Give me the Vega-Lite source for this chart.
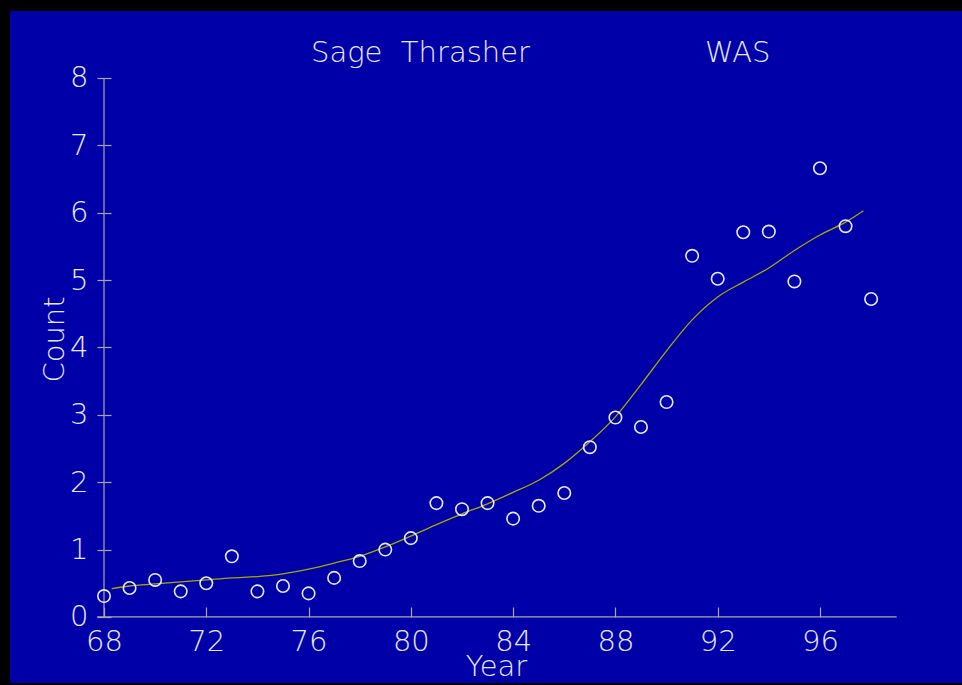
{
  "$schema": "https://vega.github.io/schema/vega-lite/v6.json",
  "width": 952,
  "height": 672,
  "autosize": {"type": "none"},
  "padding": {"left": 10, "top": 11, "right": 0, "bottom": 2},
  "background": "#000000",
  "config": {
    "view": {"fill": "#0000A8", "stroke": null},
    "font": "DejaVu Sans"
  },
  "title": {
    "text": "Sage\u00a0\u00a0Thrasher\u00a0\u00a0\u00a0\u00a0\u00a0\u00a0\u00a0\u00a0\u00a0\u00a0\u00a0\u00a0\u00a0\u00a0\u00a0\u00a0\u00a0\u00a0\u00a0WAS",
    "anchor": "start",
    "frame": "group",
    "dx": 301,
    "offset": -80,
    "baseline": "alphabetic",
    "fontSize": 29,
    "fontWeight": 200,
    "color": "#E8E8FF",
    "font": "DejaVu Sans"
  },
  "data": {"values": [{}]},
  "datasets": {
    "obs": [
      {"year": 68, "count": 0.31}, {"year": 69, "count": 0.43}, {"year": 70, "count": 0.55},
      {"year": 71, "count": 0.38}, {"year": 72, "count": 0.5}, {"year": 73, "count": 0.9},
      {"year": 74, "count": 0.38}, {"year": 75, "count": 0.46}, {"year": 76, "count": 0.35},
      {"year": 77, "count": 0.58}, {"year": 78, "count": 0.83}, {"year": 79, "count": 1.0},
      {"year": 80, "count": 1.17}, {"year": 81, "count": 1.69}, {"year": 82, "count": 1.6},
      {"year": 83, "count": 1.69}, {"year": 84, "count": 1.46}, {"year": 85, "count": 1.65},
      {"year": 86, "count": 1.84}, {"year": 87, "count": 2.52}, {"year": 88, "count": 2.96},
      {"year": 89, "count": 2.82}, {"year": 90, "count": 3.19}, {"year": 91, "count": 5.36},
      {"year": 92, "count": 5.02}, {"year": 93, "count": 5.71}, {"year": 94, "count": 5.72},
      {"year": 95, "count": 4.98}, {"year": 96, "count": 6.66}, {"year": 97, "count": 5.8},
      {"year": 98, "count": 4.72}
    ],
    "fit": [
      {"year": 68.3, "fit": 0.42}, {"year": 69, "fit": 0.46}, {"year": 70, "fit": 0.49},
      {"year": 71, "fit": 0.52}, {"year": 72, "fit": 0.55}, {"year": 73, "fit": 0.58},
      {"year": 74, "fit": 0.6}, {"year": 75, "fit": 0.64}, {"year": 76, "fit": 0.71},
      {"year": 77, "fit": 0.8}, {"year": 78, "fit": 0.9}, {"year": 79, "fit": 1.04},
      {"year": 80, "fit": 1.2}, {"year": 81, "fit": 1.37}, {"year": 82, "fit": 1.53},
      {"year": 83, "fit": 1.68}, {"year": 84, "fit": 1.85}, {"year": 85, "fit": 2.03},
      {"year": 86, "fit": 2.28}, {"year": 87, "fit": 2.6}, {"year": 88, "fit": 2.97},
      {"year": 89, "fit": 3.45}, {"year": 90, "fit": 3.95}, {"year": 91, "fit": 4.41},
      {"year": 92, "fit": 4.75}, {"year": 93, "fit": 4.97}, {"year": 94, "fit": 5.18},
      {"year": 95, "fit": 5.44}, {"year": 96, "fit": 5.67}, {"year": 97, "fit": 5.86},
      {"year": 97.7, "fit": 6.03}
    ]
  },
  "resolve": {"axis": {"y": "independent", "x": "independent"}},
  "layer": [
    {
      "mark": {"type": "rule", "color": "#A8A8A8", "strokeWidth": 1.2},
      "encoding": {
        "x": {"datum": 67.73, "type": "quantitative", "scale": {"domain": [64.324, 101.554], "nice": false, "zero": false}, "axis": null},
        "x2": {"datum": 99.0},
        "y": {"datum": 0, "type": "quantitative", "scale": {"domain": [-0.98, 8.994], "nice": false, "zero": false}, "axis": null}
      }
    },
    {
      "mark": {"type": "rule", "color": "#A8A8A8", "strokeWidth": 1.2},
      "encoding": {
        "x": {"datum": 68, "type": "quantitative", "axis": null},
        "y": {"datum": 0, "type": "quantitative", "axis": null},
        "y2": {"datum": 8}
      }
    },
    {
      "data": {"name": "fit"},
      "mark": {"type": "line", "color": "#A8A800", "strokeWidth": 1.3, "interpolate": "monotone"},
      "encoding": {
        "x": {"field": "year", "type": "quantitative", "axis": null},
        "y": {
          "field": "fit", "type": "quantitative",
          "axis": {
            "orient": "right", "offset": -858, "values": [0, 1, 2, 3, 4, 5, 6, 7, 8],
            "labels": false, "domain": false, "grid": false, "title": null,
            "tickSize": 7, "tickColor": "#A8A8A8", "tickWidth": 1.2
          }
        }
      }
    },
    {
      "data": {"name": "obs"},
      "mark": {"type": "point", "shape": "circle", "filled": false, "stroke": "#E8E8FF", "strokeWidth": 1.6, "size": 155, "opacity": 1},
      "encoding": {
        "x": {
          "field": "year", "type": "quantitative",
          "axis": {
            "orient": "bottom", "offset": -66, "values": [68, 72, 76, 80, 84, 88, 92, 96],
            "domain": false, "grid": false,
            "tickSize": -10, "tickColor": "#A8A8A8", "tickWidth": 1.2,
            "labelPadding": 20, "labelFontSize": 29, "labelFontWeight": 200, "labelColor": "#E8E8FF", "labelFont": "DejaVu Sans",
            "title": "Year", "titleFontSize": 29, "titleFontWeight": 200, "titleColor": "#E8E8FF", "titleFont": "DejaVu Sans",
            "titleX": 486, "titleY": 49, "titleAlign": "center", "titleBaseline": "middle"
          }
        },
        "y": {
          "field": "count", "type": "quantitative",
          "axis": {
            "orient": "left", "offset": -94, "values": [0, 1, 2, 3, 4, 5, 6, 7, 8],
            "domain": false, "grid": false,
            "tickSize": 7, "tickColor": "#A8A8A8", "tickWidth": 1.2,
            "labelPadding": 9, "labelFontSize": 29, "labelFontWeight": 200, "labelColor": "#E8E8FF", "labelFont": "DejaVu Sans",
            "labelAlign": "right", "labelBaseline": "middle",
            "title": "Count", "titleFontSize": 29, "titleFontWeight": 200, "titleColor": "#E8E8FF", "titleFont": "DejaVu Sans",
            "titleAngle": 270, "titleX": -50, "titleY": 328, "titleAlign": "center", "titleBaseline": "middle"
          }
        }
      }
    }
  ]
}
